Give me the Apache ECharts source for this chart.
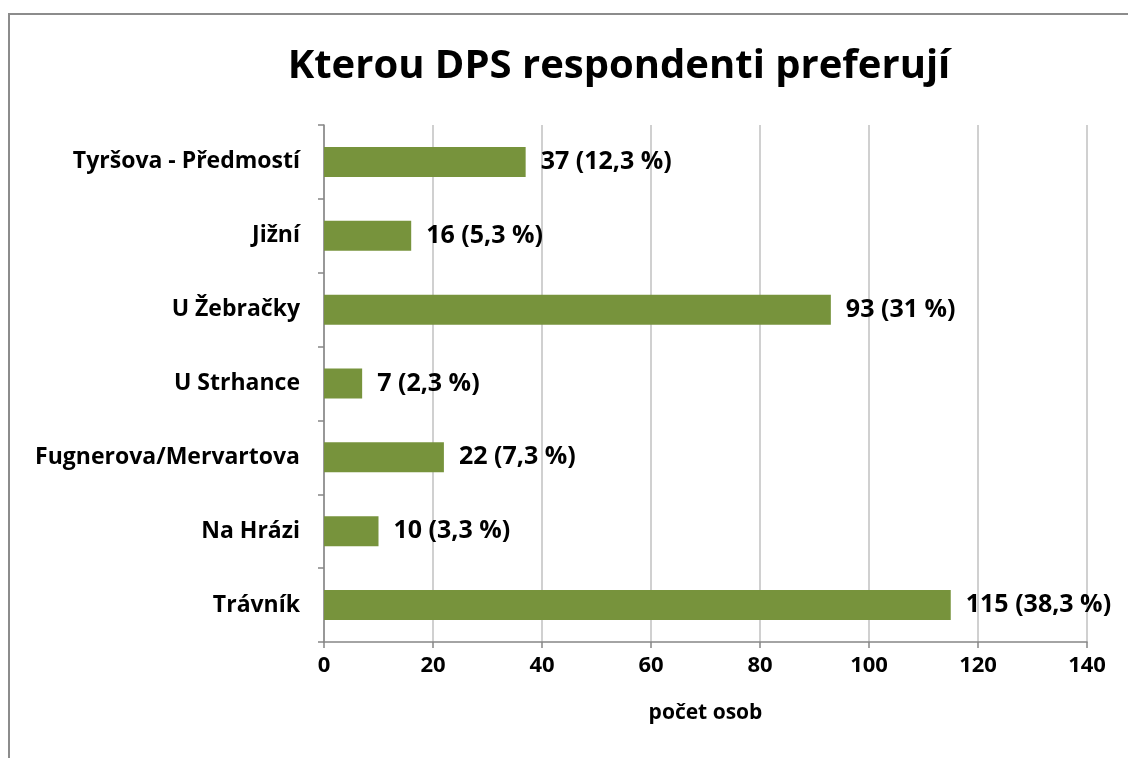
<!DOCTYPE html>
<html>
<head>
<meta charset="utf-8">
<script src="https://cdn.jsdelivr.net/npm/echarts@6/dist/echarts.min.js"></script>
<style>
    html, body { margin: 0; padding: 0; background: #fff; }
    #chart { width: 1128px; height: 758px; }
    .frame {
        position: absolute;
        left: 8px;
        top: 13px;
        width: 1200px;
        height: 800px;
        border-left: 2px solid #8c8c8c;
        border-top: 2px solid #8c8c8c;
        pointer-events: none;
    }
</style>
</head>
<body>
<div class="frame"></div>
<div id="chart"></div>
<script>
    // kategorie (shora dolů)
    const categories = ['Tyršova - Předmostí', 'Jižní', 'U Žebračky', 'U Strhance', 'Fugnerova/Mervartova', 'Na Hrázi', 'Trávník']
    // počet osob
    const counts = [37, 16, 93, 7, 22, 10, 115]
    // podíl v %
    const percents = ['12,3', '5,3', '31', '2,3', '7,3', '3,3', '38,3']

    const font = '"Open Sans", sans-serif'
    const chart = echarts.init(document.getElementById('chart'))
    chart.setOption({
        animation: false,
        title: {
            text: 'Kterou DPS respondenti preferují',
            left: 614,
            textAlign: 'center',
            top: 42,
            textStyle: {
                fontFamily: font,
                fontSize: 40,
                fontWeight: 'bold',
                color: '#000'
            }
        },
        grid: {
            left: 324,
            right: 41,
            top: 125,
            bottom: 116,
            containLabel: false
        },
        xAxis: {
            type: 'value',
            min: 0,
            max: 140,
            interval: 20,
            name: 'počet osob',
            nameLocation: 'middle',
            nameGap: 61,
            nameTextStyle: {
                fontFamily: font,
                fontSize: 21,
                fontWeight: 'bold',
                color: '#000'
            },
            axisLine: { show: true, lineStyle: { color: '#868686', width: 1.5 } },
            axisTick: { show: true, length: 6, lineStyle: { color: '#868686', width: 1.5 } },
            axisLabel: {
                margin: 13,
                fontFamily: font,
                fontSize: 22,
                fontWeight: 'bold',
                color: '#000'
            },
            splitLine: { show: true, lineStyle: { color: '#c0c0c0', width: 1.5 } }
        },
        yAxis: {
            type: 'category',
            data: categories,
            inverse: true,
            axisLine: { show: true, lineStyle: { color: '#868686', width: 1.5 } },
            axisTick: { show: true, length: 6, alignWithLabel: false, lineStyle: { color: '#868686', width: 1.5 } },
            axisLabel: {
                margin: 24,
                fontFamily: font,
                fontSize: 23,
                fontWeight: 'bold',
                color: '#000'
            },
            splitLine: { show: false }
        },
        series: [
            {
                type: 'bar',
                data: counts,
                barWidth: 30,
                itemStyle: { color: '#77933C' },
                label: {
                    show: true,
                    position: 'right',
                    distance: 15,
                    fontFamily: font,
                    fontSize: 25,
                    fontWeight: 'bold',
                    color: '#000',
                    formatter: function (p) {
                        return p.value + ' (' + percents[p.dataIndex] + ' %)'
                    }
                }
            }
        ]
    })
</script>
</body>
</html>
